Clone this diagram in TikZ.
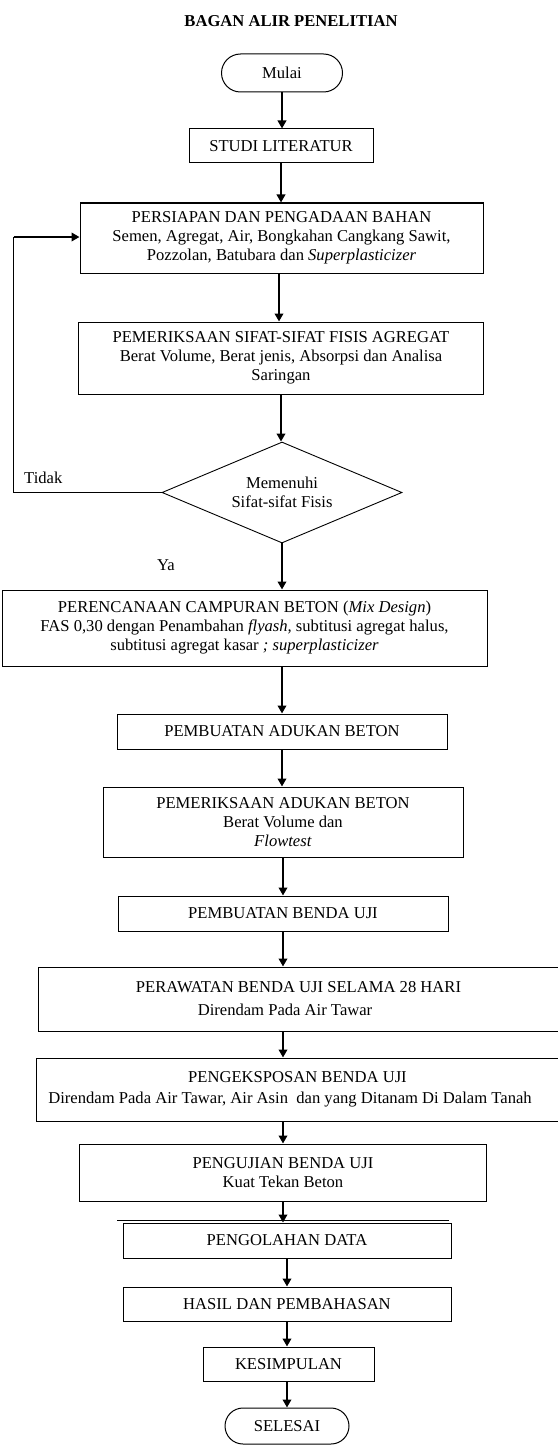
\documentclass[tikz,border=0pt]{standalone}
\usepackage{fontspec}
\setmainfont{Liberation Serif}
\usetikzlibrary{arrows.meta,shapes.geometric,shapes.misc,calc}
\begin{document}
\begin{tikzpicture}[x=1pt,y=-1pt,
  every node/.style={font=\fontsize{16.6}{19}\selectfont, inner sep=0pt},
  box/.style={draw, line width=1pt, align=center},
  term/.style={draw, line width=1pt, rounded rectangle},
  decision/.style={draw, line width=0.9pt, diamond, aspect=2.4, align=center},
  arr/.style={line width=2pt, -{Triangle[length=8pt,width=8.5pt]}},
  thinline/.style={line width=1pt}]
\useasboundingbox (0,0) rectangle (557,1450);

\node (title) at (291,21) {\textbf{BAGAN ALIR PENELITIAN}};

\node[term, minimum width=121pt, minimum height=38pt] (mulai) at (282,73) {Mulai};
\node[box, minimum width=184pt, minimum height=34pt] (studi) at (281,146) {STUDI LITERATUR};
\node[box, minimum width=403pt, minimum height=70pt] (siap) at (281.5,238)
  {PERSIAPAN DAN PENGADAAN BAHAN\\Semen, Agregat, Air, Bongkahan Cangkang Sawit,\\Pozzolan, Batubara dan \textit{Superplasticizer}};
\node[box, minimum width=405pt, minimum height=72pt] (periksa) at (281,358)
  {PEMERIKSAAN SIFAT-SIFAT FISIS AGREGAT\\Berat Volume, Berat jenis, Absorpsi dan Analisa\\Saringan};
\node[decision, minimum width=240pt, minimum height=101pt] (dec) at (282,492.5)
  {Memenuhi\\Sifat-sifat Fisis};
\node[box, minimum width=485pt, minimum height=76pt] (rencana) at (244.5,628)
  {PERENCANAAN CAMPURAN BETON (\textit{Mix Design})\\FAS 0,30 dengan Penambahan \textit{flyash,} subtitusi agregat halus,\\subtitusi agregat kasar \textit{; superplasticizer}};
\node[box, minimum width=330pt, minimum height=35pt] (aduk) at (282,731.5) {PEMBUATAN ADUKAN BETON};
\node[box, minimum width=360pt, minimum height=70pt] (cekaduk) at (283,822)
  {PEMERIKSAAN ADUKAN BETON\\Berat Volume dan\\\textit{Flowtest}};
\node[box, minimum width=330pt, minimum height=35pt] (benda) at (283,913.5) {PEMBUATAN BENDA UJI};
\node[box, minimum width=521pt, minimum height=64pt] (rawat) at (298.5,999)
  {PERAWATAN BENDA UJI SELAMA 28 HARI\\[4pt]Direndam Pada Air Tawar\hspace*{27pt}\null};
\node[box, minimum width=523pt, minimum height=63pt] (ekspos) at (297.5,1089.5)
  {PENGEKSPOSAN BENDA UJI\\[2pt]Direndam Pada Air Tawar, Air Asin\ \ dan yang Ditanam Di Dalam Tanah\hspace*{15pt}\null};
\node[box, minimum width=407pt, minimum height=57pt] (uji) at (283,1172.5)
  {PENGUJIAN BENDA UJI\\Kuat Tekan Beton};
\node[box, minimum width=328pt, minimum height=35pt] (olah) at (287,1240.5) {PENGOLAHAN DATA};
\node[box, minimum width=328pt, minimum height=34pt] (hasil) at (287,1304) {HASIL DAN PEMBAHASAN};
\node[box, minimum width=171pt, minimum height=34pt] (simpul) at (288.5,1364) {KESIMPULAN};
\node[term, minimum width=124pt, minimum height=36pt] (selesai) at (287,1426) {SELESAI};

\node[anchor=west] (tidak) at (24,478) {Tidak};
\node (ya) at (166,565) {Ya};

\coordinate (fb) at (13.5,237);

% stray line above PENGOLAHAN DATA
\draw[line width=0.8pt] ($(olah.north west)+(-5.5,-2)$) -- ($(olah.north east)+(-2.5,-2)$);

% connectors
\draw[arr] (mulai.south) -- (mulai.south |- studi.north);
\draw[arr] (studi.south) -- (studi.south |- siap.north);
\draw[arr] ([xshift=-2.5pt]siap.south) -- ([xshift=-2.5pt]siap.south |- periksa.north);
\draw[arr] (periksa.south) -- (periksa.south |- dec.north);
\draw[arr] (dec.south) -- (dec.south |- rencana.north);
\draw[arr] (aduk.north |- rencana.south) -- (aduk.north);
\draw[arr] (aduk.south) -- (aduk.south |- cekaduk.north);
\draw[arr] (cekaduk.south) -- (cekaduk.south |- benda.north);
\draw[arr] (benda.south) -- (benda.south |- rawat.north);
\draw[arr] (benda.south |- rawat.south) -- (benda.south |- ekspos.north);
\draw[arr] (uji.north |- ekspos.south) -- (uji.north);
\draw[arr] (uji.south) -- (uji.south |- olah.north);
\draw[arr] (olah.south) -- (olah.south |- hasil.north);
\draw[arr] (hasil.south) -- (hasil.south |- simpul.north);
\draw[arr] (selesai.north |- simpul.south) -- (selesai.north);

% feedback loop (Tidak)
\draw[thinline] (dec.west) -- (fb |- dec.west) -- (fb);
\draw[arr] (fb) -- (fb -| siap.west);
\end{tikzpicture}
\end{document}
